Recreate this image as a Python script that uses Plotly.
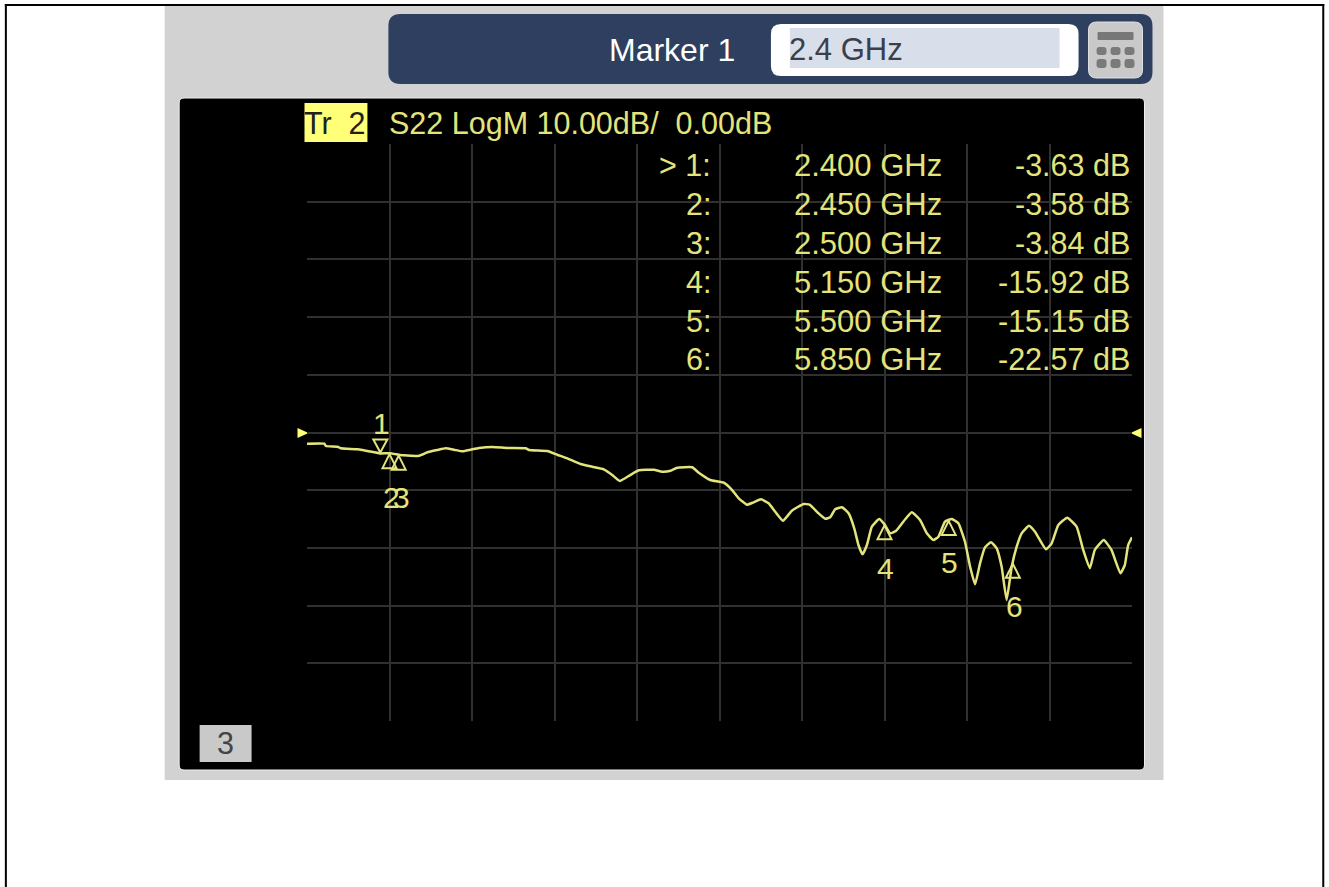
import plotly.graph_objects as go

# ---- data ----
freq_ghz = [2.00,2.094,2.103,2.167,2.185,2.276,2.367,2.40,2.45,2.50,2.527,2.612,2.657,2.712,2.757,2.802,2.848,2.893,2.938,3.011,
            3.093,3.193,3.211,3.311,3.365,3.420,3.492,3.556,3.619,3.665,3.706,3.755,3.810,3.892,3.937,3.983,4.019,4.101,4.137,4.200,
            4.273,4.319,4.355,4.400,4.436,4.477,4.518,4.554,4.596,4.645,4.709,4.741,4.790,4.827,4.854,4.881,4.918,4.954,4.985,5.008,
            5.030,5.054,5.081,5.121,5.15,5.181,5.214,5.263,5.299,5.344,5.381,5.417,5.444,5.480,5.517,5.553,5.589,5.617,5.644,5.671,
            5.698,5.731,5.762,5.789,5.816,5.844,5.871,5.898,5.938,5.971,6.031,6.062,6.098,6.147,6.198,6.234,6.270,6.297,6.346,6.388,
            6.437,6.461,6.479,6.50]
s22_db = [-1.94,-1.94,-2.34,-2.46,-2.74,-2.91,-3.43,-3.63,-3.58,-3.84,-3.95,-4.02,-3.43,-3.03,-2.74,-2.98,-3.26,-2.98,-2.69,-2.51,
          -2.69,-2.74,-3.03,-3.21,-3.85,-4.47,-5.46,-5.93,-6.38,-7.37,-8.41,-7.54,-6.55,-6.45,-6.79,-6.62,-6.10,-6.03,-6.97,-8.23,
          -8.70,-9.97,-11.40,-12.51,-12.10,-11.58,-12.27,-13.73,-15.29,-13.55,-12.39,-12.51,-14.00,-14.94,-14.70,-13.31,-12.96,-14.00,-16.60,-19.50,
          -21.11,-19.50,-16.33,-14.99,-15.92,-17.47,-17.02,-15.04,-13.83,-15.16,-17.47,-18.63,-18.06,-15.46,-14.99,-15.74,-18.93,-23.26,-26.31,-22.67,
          -19.90,-19.03,-20.07,-23.26,-29.03,-23.26,-19.79,-17.47,-16.15,-17.19,-20.24,-19.20,-16.03,-14.77,-16.33,-20.36,-23.54,-20.36,-18.63,-20.36,
          -24.40,-22.96,-19.50,-18.16]
marker_ids = ["1", "2", "3", "4", "5", "6"]
marker_freq = [2.400, 2.450, 2.500, 5.150, 5.500, 5.850]
marker_db = [-3.63, -3.58, -3.84, -15.92, -15.15, -22.57]
table_prefix = ["> 1:", "2:", "3:", "4:", "5:", "6:"]
table_freq = ["2.400 GHz", "2.450 GHz", "2.500 GHz", "5.150 GHz", "5.500 GHz", "5.850 GHz"]
table_val = ["-3.63 dB", "-3.58 dB", "-3.84 dB", "-15.92 dB", "-15.15 dB", "-22.57 dB"]
x_grid = [2.45, 2.90, 3.35, 3.80, 4.25, 4.70, 5.15, 5.60, 6.05]
y_grid = [40, 30, 20, 10, 0, -10, -20, -30, -40]

# ---- layout ----
W, H = 1329, 887
L, R, T, B = 306.5, 1132.5, 144, 721
YEL = "#e4e47c"
FONT = "Liberation Sans"

def px(x): return (x - L) / (R - L)
def py(y): return (B - y) / (B - T)

def rrect(x0, y0, x1, y1, r):
    a, b, c, d = px(x0), px(x1), py(y0), py(y1)
    rx, ry = r / (R - L), r / (B - T)
    return (f"M{a+rx},{c} L{b-rx},{c} Q{b},{c} {b},{c-ry} L{b},{d+ry} Q{b},{d} {b-rx},{d} "
            f"L{a+rx},{d} Q{a},{d} {a},{d+ry} L{a},{c-ry} Q{a},{c} {a+rx},{c} Z")

shapes = []
def box(x0, y0, x1, y1, color, r=0, line=None, lw=0):
    shapes.append(dict(type="path", xref="paper", yref="paper", layer="below",
                       path=rrect(x0, y0, x1, y1, r), fillcolor=color,
                       line=dict(color=line or color, width=lw)))

def poly(points, color):
    p = "M" + " L".join(f"{px(a)},{py(b)}" for a, b in points) + " Z"
    shapes.append(dict(type="path", xref="paper", yref="paper", layer="below",
                       path=p, fillcolor=color, line=dict(width=0)))

# outer frame
box(4, 4, 6, H, "#000000")
box(4, 4, 1325, 6, "#000000")
box(1323, 4, 1325, H, "#000000")
# instrument panel
box(164, 6, 1164, 780, "#d2d2d2")
box(388, 14, 1153, 84, "#2e3f5f", r=12)
box(771, 24, 1079, 76, "#ffffff", r=10)
box(790, 28, 1060, 68, "#d8deea")
box(1089, 22, 1143, 78, "#c9c9c9", r=8, line="#e2e2e2", lw=1)
box(1098, 32, 1134, 40, "#777777", r=1)
for cx in (1102, 1116, 1130):
    box(cx - 5, 47, cx + 5, 55, "#7a7a7a", r=3)
    box(cx - 5, 59, cx + 5, 68, "#7a7a7a", r=3)
box(178.5, 98, 1145, 770, "#000000", r=5, line="#efefef", lw=1)
box(304, 103, 367, 142, "#ffff78")
box(199, 725, 251, 762, "#c9c9c9")
# reference-level arrows
poly([(297, 428), (308, 433), (297, 438)], "#ffff78")
poly([(1142, 428), (1131, 433), (1142, 438)], "#ffff78")

# marker triangles, anchored on their data values
for i, (f, d) in enumerate(zip(marker_freq, marker_db)):
    path = "M0,1 L-7,14 L7,14 Z" if i == 0 else "M0,-1 L-7,-15 L7,-15 Z"
    shapes.append(dict(type="path", xref="x", yref="y", xsizemode="pixel", ysizemode="pixel",
                       xanchor=f, yanchor=d, path=path, fillcolor="rgba(0,0,0,0)",
                       line=dict(color=YEL, width=2), layer="above"))

ann = []
def text(x, y, s, anchor="left", color=YEL, size=30.5):
    ann.append(dict(xref="paper", yref="paper", x=px(x), y=py(y), text=s, showarrow=False,
                    xanchor=anchor, yanchor="middle", font=dict(family=FONT, size=size, color=color),
                    borderpad=0, borderwidth=0))

text(672, 50, "Marker 1", "center", "#ffffff", 32)
text(789, 49, "2.4 GHz", "left", "#3a3f4a", 31)
text(335, 123, "Tr&nbsp;&nbsp;2", "center", "#202020")
text(389, 123, "S22 LogM 10.00dB/&nbsp;&nbsp;0.00dB", "left")
text(225, 743, "3", "center", "#444444")
row_y = [165, 204, 243, 282, 321, 359]
for y, a, b, c in zip(row_y, table_prefix, table_freq, table_val):
    text(711, y, a, "right")
    text(942, y, b, "right", size=31)
    text(1130, y, c, "right")

label_shift = [(1, 30), (2, -44), (3, -43), (1, -44), (1, -43), (2, -44)]
for m, f, d, (sx, sy) in zip(marker_ids, marker_freq, marker_db, label_shift):
    ann.append(dict(xref="x", yref="y", x=f, y=d, xshift=sx, yshift=sy, text=m, showarrow=False,
                    xanchor="center", yanchor="middle", font=dict(family=FONT, size=30, color=YEL)))

fig = go.Figure(go.Scatter(x=freq_ghz, y=s22_db, mode="lines", cliponaxis=False,
                           line=dict(color=YEL, width=2.5, shape="spline", smoothing=0.4),
                           hoverinfo="skip", showlegend=False))

axis_common = dict(showticklabels=False, ticks="", zeroline=False, showline=False,
                   gridcolor="#303030", gridwidth=2, showgrid=True, fixedrange=True)
fig.update_layout(
    width=W, height=H, margin=dict(l=L, r=W - R, t=T, b=H - B, pad=0),
    paper_bgcolor="#ffffff", plot_bgcolor="rgba(0,0,0,0)", showlegend=False,
    shapes=shapes, annotations=ann,
    xaxis=dict(range=[2.0, 6.5], tickmode="array", tickvals=x_grid, **axis_common),
    yaxis=dict(range=[-50, 50], tickmode="array", tickvals=y_grid, **axis_common),
)
fig.write_html("out.html", config=dict(displayModeBar=False),
               post_script="document.body.style.margin='0';document.body.style.overflow='hidden';")
